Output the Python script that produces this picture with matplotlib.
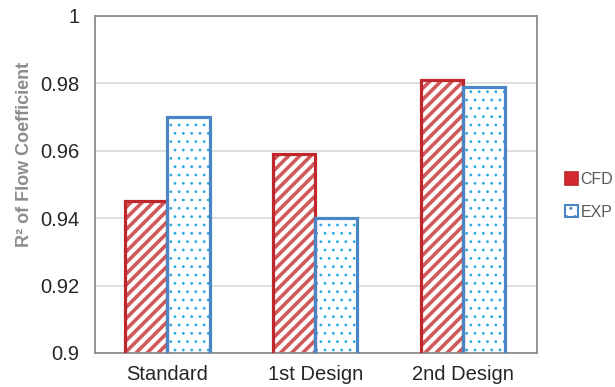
import matplotlib
matplotlib.use("Agg")
import matplotlib.pyplot as plt
from matplotlib.patches import Patch
import numpy as np

plt.rcParams['font.family'] = ['Liberation Sans', 'DejaVu Sans']

designs = ['Standard', '1st Design', '2nd Design']
cfd = [0.945, 0.959, 0.981]
exp = [0.970, 0.940, 0.979]

red_edge = '#c0272d'
red_hatch = '#d0595a'
blue_edge = '#4a86c5'
blue_dots = '#2aa8e0'

fig = plt.figure(figsize=(6.15, 3.87), dpi=100)
ax = fig.add_axes([0.1545, 0.088, 0.7185, 0.871])

x = np.arange(len(designs))
w = 0.285

# hatch layer first, then the solid outline on top
cfd_fill = ax.bar(x - w / 2, cfd, w, color='white', edgecolor=red_hatch,
                  hatch='///', linewidth=0, zorder=2)
ax.bar(x - w / 2, cfd, w, fill=False, edgecolor=red_edge,
       linewidth=2.3, zorder=3)
exp_fill = ax.bar(x + w / 2, exp, w, color='white', edgecolor=blue_dots,
                  hatch='..', linewidth=0, zorder=2)
ax.bar(x + w / 2, exp, w, fill=False, edgecolor=blue_edge,
       linewidth=2.3, zorder=3)
for b in cfd_fill:
    b.set_hatch_linewidth(2.6)
for b in exp_fill:
    b.set_hatch_linewidth(0.8)

ax.set_xlim(-0.49, 2.5)
ax.set_ylim(0.9, 1.0)
ax.set_yticks([0.9, 0.92, 0.94, 0.96, 0.98, 1.0])
ax.set_yticklabels(['0.9', '0.92', '0.94', '0.96', '0.98', '1'])
ax.set_xticks(x)
ax.set_xticklabels(designs)
ax.tick_params(length=0, labelsize=14.5, colors='#262626')
ax.tick_params(axis='y', pad=11)
ax.tick_params(axis='x', pad=9)
ax.yaxis.grid(True, color='#d9d9d9', linewidth=1.2, zorder=0)
ax.set_axisbelow(True)
for s in ax.spines.values():
    s.set_color('#8c8c8c')
    s.set_linewidth(1.3)

ax.set_ylabel('R² of Flow Coefficient', fontsize=13, fontweight='bold',
              color='#8c8c8c')
ax.yaxis.set_label_coords(-0.14, 0.59)

handles = [Patch(facecolor='#d42a2f', edgecolor=red_edge, linewidth=1.2),
           Patch(facecolor='white', edgecolor=blue_edge, linewidth=1.5,
                 hatch='..')]
fig.legend(handles, ['CFD', 'EXP'], loc='center left',
           bbox_to_anchor=(0.918, 0.494), frameon=False, fontsize=11.5,
           labelcolor='#595959', handlelength=0.85, handleheight=0.85,
           handletextpad=0.15, labelspacing=1.1, borderpad=0,
           borderaxespad=0)

fig.savefig('out.png', dpi=100)
